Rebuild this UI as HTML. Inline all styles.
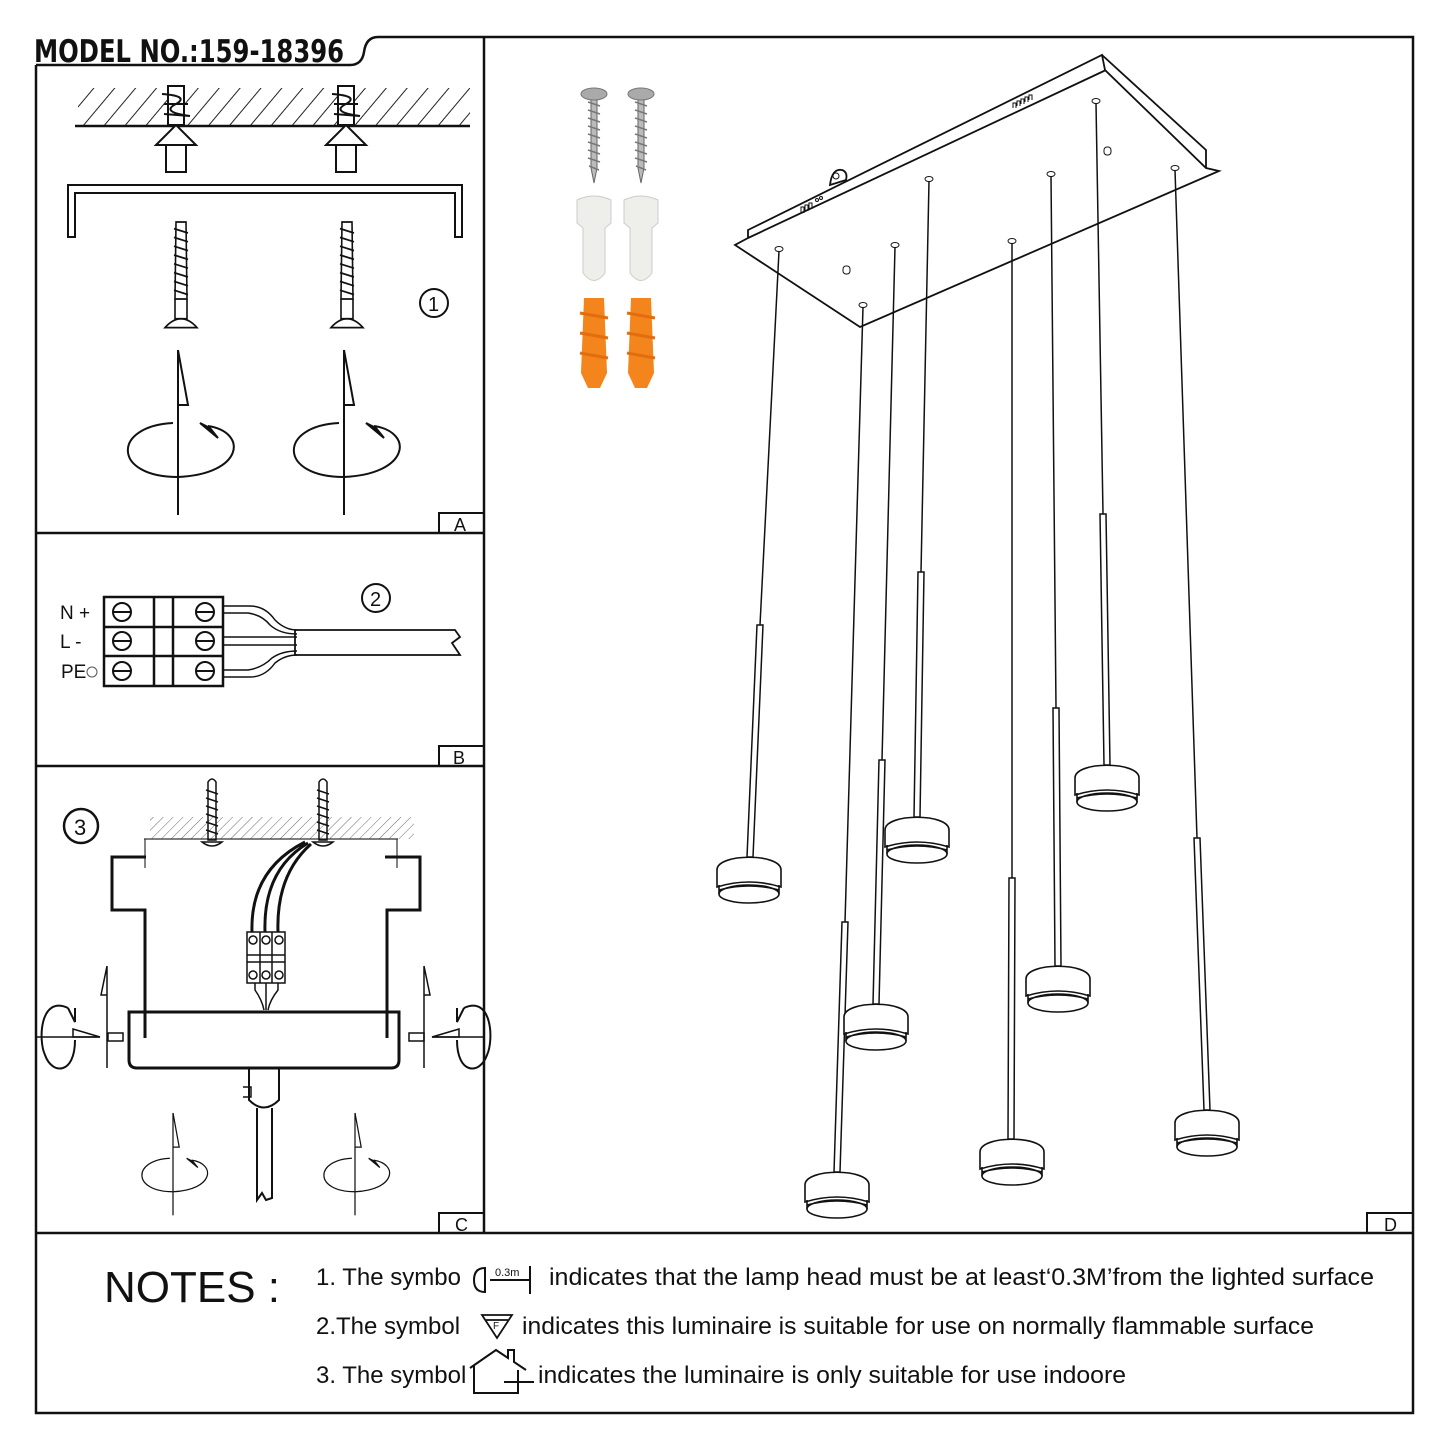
<!DOCTYPE html>
<html><head><meta charset="utf-8"><style>
html,body{margin:0;padding:0;background:#fff}
svg{display:block}
text{font-family:"Liberation Sans",sans-serif;fill:#111}
</style></head><body>
<svg width="1445" height="1445" viewBox="0 0 1445 1445" xmlns="http://www.w3.org/2000/svg">
<defs>
<pattern id="hatch" width="16" height="16" patternUnits="userSpaceOnUse" patternTransform="rotate(40)">
<line x1="0" y1="0" x2="0" y2="16" stroke="#222" stroke-width="2"/>
</pattern>
<pattern id="hatch2" width="7" height="7" patternUnits="userSpaceOnUse" patternTransform="rotate(45)">
<line x1="0" y1="0" x2="0" y2="7" stroke="#444" stroke-width="0.8"/>
</pattern>
<g id="head" fill="none" stroke="#111" stroke-width="1.6">
<path d="M-32,14 C-32,-3 32,-3 32,14 L32,31 Q0,21 -32,31 Z" fill="#fff"/>
<path d="M-30,29 L-30,38 M30,29 L30,38"/>
<ellipse cx="0" cy="38" rx="30" ry="9" fill="#fff"/>
<path d="M-30,34 Q0,26 30,34"/>
</g>
<g id="rot" fill="none" stroke="#111" stroke-width="2">
<path d="M0,-100 L0,65"/>
<path d="M0,-100 L10,-45 L0,-45"/>
<path d="M30,-24 C70,-18 66,24 0,27 C-66,27 -66,-24 -5,-27"/>
<path d="M22,-27 L40,-12 L32,-22 Z" fill="#111"/>
</g>
<g id="screw" stroke="#111" fill="none" stroke-width="1.6">
<path d="M-5,0 L5,0 L6,70 L-6,70 Z" fill="#fff"/>
<path d="M-7,6 L7,10 M-7,14 L7,18 M-7,22 L7,26 M-7,30 L7,34 M-7,38 L7,42 M-7,46 L7,50 M-7,54 L7,58 M-7,62 L7,66"/>
<path d="M-16,96 Q0,80 16,96 Z" fill="#fff"/>
<path d="M-6,70 L-6,88 L6,88 L6,70"/>
</g>
<g id="hw">
<path d="M-3,8 L3,8 L3,80 L0,95 L-3,80 Z" fill="#bbb" stroke="#666"/>
<path d="M-6,14 L6,18 M-6,22 L6,26 M-6,30 L6,34 M-6,38 L6,42 M-6,46 L6,50 M-6,54 L6,58 M-6,62 L6,66 M-6,70 L6,74 M-5,78 L5,82" stroke="#777" stroke-width="1.5"/>
<ellipse cx="0" cy="6" rx="13" ry="6" fill="#aaa" stroke="#777"/>
<path d="M-17,112 Q0,104 17,112 L17,135 L11,140 L11,185 Q0,200 -11,185 L-11,140 L-17,135 Z" fill="#eeeeea" stroke="#ccc"/>
<path d="M-10,210 L10,210 L13,285 L6,300 L-6,300 L-13,285 Z" fill="#f4841c"/>
<path d="M-14,225 L14,230 M-14,245 L14,250 M-14,265 L14,270" stroke="#e06e10" stroke-width="3"/>
</g>
</defs>

<!-- frame -->
<g fill="none" stroke="#111" stroke-width="2.5">
<path d="M36,65 L36,1413 L1413,1413 L1413,37 L378,37 Q366,37 364,52 Q362,65 350,65 L36,65"/>
<line x1="484" y1="37" x2="484" y2="1233"/>
<line x1="36" y1="533" x2="484" y2="533"/>
<line x1="36" y1="766" x2="484" y2="766"/>
<line x1="36" y1="1233" x2="1413" y2="1233"/>
<rect x="439" y="513" width="45" height="20" stroke-width="2"/>
<rect x="439" y="746" width="45" height="20" stroke-width="2"/>
<rect x="439" y="1213" width="45" height="20" stroke-width="2"/>
<rect x="1367" y="1213" width="46" height="20" stroke-width="2"/>
</g>
<text x="34" y="62" font-size="31" font-weight="bold" style="font-family:'DejaVu Sans Condensed','Liberation Sans Narrow','Liberation Sans',sans-serif" textLength="310" lengthAdjust="spacingAndGlyphs">MODEL NO.:159-18396</text>
<text x="454" y="531" font-size="18">A</text>
<text x="453" y="764" font-size="18">B</text>
<text x="455" y="1231" font-size="18">C</text>
<text x="1384" y="1231" font-size="18">D</text>

<!-- Panel A -->
<rect x="78" y="88" width="392" height="37" fill="url(#hatch)"/>
<line x1="75" y1="126" x2="470" y2="126" stroke="#111" stroke-width="2.5"/>
<g fill="#fff" stroke="#111" stroke-width="2">
<path d="M166,145 L186,145 L186,172 L166,172 Z"/><path d="M156,145 L176,125 L196,145 Z"/>
<path d="M336,145 L356,145 L356,172 L336,172 Z"/><path d="M326,145 L346,125 L366,145 Z"/>
<path d="M168,86 L184,86 L184,125 L168,125 Z"/>
<path d="M338,86 L354,86 L354,125 L338,125 Z"/>
<path d="M162,94 Q190,96 176,104 Q160,112 190,116 M164,104 L188,104 M164,114 L190,116" fill="none"/>
<path d="M332,94 Q360,96 346,104 Q330,112 360,116 M334,104 L358,104 M334,114 L360,116" fill="none"/>
<path d="M68,237 L68,185 L462,185 L462,237 L455,237 L455,193 L75,193 L75,237 Z"/>
</g>
<use href="#screw" transform="translate(181,222) scale(1,1.1)"/>
<use href="#screw" transform="translate(347,222) scale(1,1.1)"/>
<circle cx="434" cy="303" r="14" fill="none" stroke="#111" stroke-width="2"/><text x="428" y="311" font-size="20">1</text>
<use href="#rot" transform="translate(178,450)"/>
<use href="#rot" transform="translate(344,450)"/>

<!-- Panel B -->
<g fill="none" stroke="#111" stroke-width="2.5">
<rect x="104" y="597" width="119" height="89"/>
<line x1="104" y1="627" x2="223" y2="627"/><line x1="104" y1="656" x2="223" y2="656"/>
<line x1="154" y1="597" x2="154" y2="686"/><line x1="173" y1="597" x2="173" y2="686"/>
<g stroke-width="2">
<circle cx="122" cy="612" r="9"/><line x1="113" y1="612" x2="131" y2="612"/>
<circle cx="122" cy="641" r="9"/><line x1="113" y1="641" x2="131" y2="641"/>
<circle cx="122" cy="671" r="9"/><line x1="113" y1="671" x2="131" y2="671"/>
<circle cx="205" cy="612" r="9"/><line x1="196" y1="612" x2="214" y2="612"/>
<circle cx="205" cy="641" r="9"/><line x1="196" y1="641" x2="214" y2="641"/>
<circle cx="205" cy="671" r="9"/><line x1="196" y1="671" x2="214" y2="671"/>
</g>
<g stroke-width="1.5">
<path d="M223,606 L250,606 Q265,606 275,620 Q285,630 297,630"/>
<path d="M223,613 L248,613 Q262,615 270,625 Q280,634 297,634"/>
<path d="M223,637 L297,637 M223,645 L297,645"/>
<path d="M223,670 L248,670 Q262,668 272,658 Q282,651 297,651"/>
<path d="M223,677 L250,677 Q265,677 275,663 Q285,655 297,655"/>
<path d="M295,630 L455,630 L460,637 L452,643 L460,655 L295,655 Z" stroke-width="1.8"/>
</g>
</g>
<text x="60" y="619" font-size="19">N +</text>
<text x="60" y="648" font-size="19">L -</text>
<text x="61" y="678" font-size="19">PE</text>
<circle cx="92" cy="672" r="5" fill="none" stroke="#555"/>
<circle cx="376" cy="598" r="14" fill="none" stroke="#111" stroke-width="2"/><text x="370" y="606" font-size="20">2</text>

<!-- Panel C -->
<rect x="150" y="817" width="264" height="22" fill="url(#hatch2)"/>
<line x1="144" y1="839" x2="398" y2="839" stroke="#333" stroke-width="1.2"/>
<line x1="145" y1="839" x2="145" y2="868" stroke="#333" stroke-width="1.2"/>
<line x1="397" y1="839" x2="397" y2="868" stroke="#333" stroke-width="1.2"/>
<circle cx="81" cy="826" r="17" fill="none" stroke="#111" stroke-width="2.5"/><text x="74" y="835" font-size="22">3</text>
<g stroke="#111" fill="none" stroke-width="1.5">
<path d="M208,782 Q212,776 216,782 L216,840 L208,840 Z"/><path d="M202,842 Q212,850 222,842 Z"/>
<path d="M206,790 L218,794 M206,798 L218,802 M206,806 L218,810 M206,814 L218,818 M206,822 L218,826 M206,830 L218,834"/>
<path d="M319,782 Q323,776 327,782 L327,840 L319,840 Z"/><path d="M313,842 Q323,850 333,842 Z"/>
<path d="M317,790 L329,794 M317,798 L329,802 M317,806 L329,810 M317,814 L329,818 M317,822 L329,826 M317,830 L329,834"/>
</g>
<g stroke="#111" fill="none" stroke-width="3">
<path d="M146,857 L112,857 L112,910 L145,910 L145,1038"/>
<path d="M385,857 L420,857 L420,910 L387,910 L387,1038"/>
<path d="M129,1012 L399,1012 L399,1060 Q399,1068 391,1068 L137,1068 Q129,1068 129,1060 Z"/>
<path d="M252,932 Q250,870 305,842 M265,932 Q263,870 308,843 M278,932 Q276,875 311,844"/>
</g>
<g stroke="#111" fill="#fff" stroke-width="1.5">
<rect x="247" y="932" width="38" height="51"/>
<line x1="260" y1="932" x2="260" y2="983"/><line x1="272" y1="932" x2="272" y2="983"/>
<line x1="247" y1="955" x2="285" y2="955"/><line x1="247" y1="962" x2="285" y2="962"/>
<circle cx="253" cy="940" r="4"/><circle cx="266" cy="940" r="4"/><circle cx="279" cy="940" r="4"/>
<circle cx="253" cy="975" r="4"/><circle cx="266" cy="975" r="4"/><circle cx="279" cy="975" r="4"/>
<path d="M255,983 L255,990 Q262,1000 264,1010 M266,983 L266,1010 M278,983 L278,990 Q270,1000 268,1010" fill="none"/>
<path d="M249,1068 L249,1100 Q264,1115 279,1100 L279,1068" fill="none" stroke-width="2"/>
<path d="M257,1108 L257,1200 L262,1193 L266,1200 L272,1198 L272,1108" fill="none" stroke-width="2"/>
<path d="M243,1087 L251,1087 L251,1097 L243,1097" fill="none"/>
<rect x="108" y="1033" width="15" height="8"/><rect x="409" y="1033" width="15" height="8"/>
</g>
<g stroke="#111" fill="none" stroke-width="1.5">
<path d="M36,1037 L100,1037 M432,1037 L484,1037"/>
<path d="M107,966 L107,1068 M107,966 L101,995 L107,995"/>
<path d="M424,966 L424,1068 M424,966 L430,995 L424,995"/>
<path d="M68,1008 C40,995 38,1040 45,1055 C52,1075 75,1075 75,1040 M68,1008 L75,1022 L75,1008" stroke-width="2"/>
<path d="M73,1029 L100,1037 L73,1037 Z" stroke-width="1.5"/>
<path d="M464,1008 C492,995 494,1040 487,1055 C480,1075 457,1075 457,1040 M464,1008 L457,1022 L457,1008" stroke-width="2"/>
<path d="M459,1029 L432,1037 L459,1037 Z"/>
</g>
<use href="#rot" transform="translate(173,1175) scale(0.62)"/>
<use href="#rot" transform="translate(355,1175) scale(0.62)"/>

<!-- Panel D hardware -->
<use href="#hw" transform="translate(594,88)"/>
<use href="#hw" transform="translate(641,88)"/>

<!-- canopy -->
<g stroke="#111" fill="#fff" stroke-width="1.8">
<path d="M748,230 L1102,55 L1105,70 L1206,168 L1219,171 L860,327 L735,245 L748,238 Z"/>
<path d="M748,238 L1106,70"/>
<path d="M1102,55 L1206,150 L1206,168" fill="none"/>
<path d="M830,185 Q832,168 842,170 Q848,172 846,180 Z"/>
</g>
<g stroke="#111" fill="none" stroke-width="1">
<circle cx="836" cy="176" r="3"/>
<path d="M1013,108 l0,-5 l3,0 l0,5 M1017,106 l0,-5 l3,0 l0,5 M1021,104 l0,-5 l3,0 l0,5 M1025,102 l0,-5 l3,0 l0,5 M1029,100 l0,-5 l3,0 l0,5"/>
<path d="M801,213 l0,-6 l3,0 l0,6 M805,211 l0,-6 l3,0 l0,6 M809,209 l0,-6 l3,0 l0,6"/>
<circle cx="817" cy="200" r="1.5"/><circle cx="821" cy="198" r="1.5"/>
<rect x="843" y="266" width="7" height="8" rx="3"/><rect x="1104" y="147" width="7" height="8" rx="3"/>
<ellipse cx="779" cy="249" rx="4" ry="2.5"/><ellipse cx="863" cy="305" rx="4" ry="2.5"/>
<ellipse cx="895" cy="245" rx="4" ry="2.5"/><ellipse cx="929" cy="179" rx="4" ry="2.5"/>
<ellipse cx="1012" cy="241" rx="4" ry="2.5"/><ellipse cx="1051" cy="174" rx="4" ry="2.5"/>
<ellipse cx="1096" cy="101" rx="4" ry="2.5"/><ellipse cx="1175" cy="168" rx="4" ry="2.5"/>
</g>
<g stroke="#111" fill="none" stroke-width="1.5">
<path d="M779,251 L760,625 M863,307 L845,922 M895,247 L882,760 M929,181 L921,572 M1012,243 L1012,878 M1051,176 L1056,708 M1096,103 L1103,514 M1175,170 L1197,838"/>
</g>
<g stroke="#111" fill="#fff" stroke-width="1.5">
<path d="M757,625 L763,625 L753,857 L747,857 Z"/>
<path d="M842,922 L848,922 L840,1172 L834,1172 Z"/>
<path d="M879,760 L885,760 L879,1004 L873,1004 Z"/>
<path d="M918,572 L924,572 L920,817 L914,817 Z"/>
<path d="M1009,878 L1015,878 L1014,1139 L1008,1139 Z"/>
<path d="M1053,708 L1059,708 L1061,966 L1055,966 Z"/>
<path d="M1100,514 L1106,514 L1110,765 L1104,765 Z"/>
<path d="M1194,838 L1200,838 L1210,1110 L1204,1110 Z"/>
</g>
<use href="#head" transform="translate(749,856)"/>
<use href="#head" transform="translate(837,1171)"/>
<use href="#head" transform="translate(876,1003)"/>
<use href="#head" transform="translate(917,816)"/>
<use href="#head" transform="translate(1012,1138)"/>
<use href="#head" transform="translate(1058,965)"/>
<use href="#head" transform="translate(1107,764)"/>
<use href="#head" transform="translate(1207,1109)"/>

<!-- Notes -->
<text x="104" y="1302" font-size="44">NOTES :</text>
<text x="316" y="1285" font-size="24">1. The symbo</text>
<path d="M485,1268 Q474,1268 474,1280 Q474,1292 485,1292 Z M485,1268 L485,1292 M490,1280 L530,1280 M530,1266 L530,1294" fill="none" stroke="#111" stroke-width="2"/>
<text x="495" y="1276" font-size="11">0.3m</text>
<text x="549" y="1285" font-size="24" textLength="825" lengthAdjust="spacingAndGlyphs">indicates that the lamp head must be at least‘0.3M’from the lighted surface</text>
<text x="316" y="1334" font-size="24">2.The symbol</text>
<path d="M482,1315 L512,1315 L497,1338 Z M486,1320 L508,1320" fill="none" stroke="#111" stroke-width="1.8"/>
<text x="493" y="1329" font-size="10">F</text>
<text x="522" y="1334" font-size="24" textLength="792" lengthAdjust="spacingAndGlyphs">indicates this luminaire is suitable for use on normally flammable surface</text>
<text x="316" y="1383" font-size="24">3. The symbol</text>
<path d="M470,1368 L496,1350 L508,1358 L508,1350 L514,1350 L514,1362 L526,1370 M474,1366 L474,1393 L518,1393 L518,1370 M504,1382 L534,1382 M518,1377 L518,1390" fill="none" stroke="#111" stroke-width="2"/>
<text x="538" y="1383" font-size="24" textLength="588" lengthAdjust="spacingAndGlyphs">indicates the luminaire is only suitable for use indoore</text>
</svg>
</body></html>
